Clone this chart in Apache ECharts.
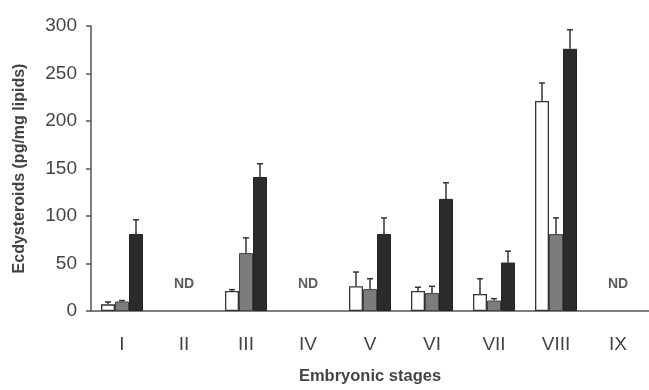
<!DOCTYPE html>
<html>
<head>
<meta charset="utf-8">
<script src="https://cdn.jsdelivr.net/npm/echarts@6/dist/echarts.min.js"></script>
<style>
  html, body { margin: 0; padding: 0; background: #fff; }
  #chart { width: 649px; height: 390px; }
</style>
</head>
<body>
<div id="chart"></div>
<script>
// stages on the x axis
const stages = ['I', 'II', 'III', 'IV', 'V', 'VI', 'VII', 'VIII', 'IX']
// three series (white, grey, black bars) + upper error
const whiteVals = [7, null, 21, null, 26, 21, 18, 221, null]
const whiteErr = [2.5, null, 1.5, null, 15, 4, 16, 19, null]
const greyVals = [10, null, 61, null, 23, 19, 11, 81, null]
const greyErr = [1, null, 16, null, 11, 7, 2, 17, null]
const blackVals = [81, null, 141, null, 81, 118, 51, 276, null]
const blackErr = [15, null, 14, null, 17, 17, 12, 20, null]
// not detected stages
const ndStages = ['II', 'IV', 'IX']
const ndLevel = 28
const yTicks = [0, 50, 100, 150, 200, 250, 300]

const BAR_W = 14
const textCol = '#444'
const axisCol = '#555'

const chart = echarts.init(document.getElementById('chart'))

// error bar drawn as custom series, shifted to sit over its own bar
const errSeries = (vals, errs, slot) => ({
  type: 'custom',
  z: 5,
  data: vals.map((v, i) => (v == null ? null : [i, v, errs[i]])).filter(d => d),
  renderItem: (params, api) => {
    const base = api.coord([api.value(0), api.value(1)])
    const top = api.coord([api.value(0), api.value(1) + api.value(2)])
    const x = base[0] + slot * BAR_W
    const style = { stroke: '#333', lineWidth: 1.5 }
    return {
      type: 'group',
      children: [
        { type: 'line', shape: { x1: x, y1: base[1], x2: x, y2: top[1] }, style },
        { type: 'line', shape: { x1: x - 3, y1: top[1], x2: x + 3, y2: top[1] }, style }
      ]
    }
  }
})

const barBase = {
  type: 'bar',
  barWidth: BAR_W,
  barGap: '0%',
  z: 3
}

chart.setOption({
  backgroundColor: '#fff',
  animation: false,
  grid: { left: 91, right: 0, top: 26, bottom: 76 },
  xAxis: {
    type: 'category',
    data: stages,
    name: 'Embryonic stages',
    nameLocation: 'middle',
    nameGap: 57,
    nameTextStyle: { color: textCol, fontSize: 16.5, fontWeight: 'bold', fontFamily: 'Liberation Sans, Arial' },
    axisLine: { lineStyle: { color: axisCol, width: 1.5 } },
    axisTick: { length: 5, lineStyle: { color: axisCol, width: 1.5 } },
    axisLabel: { color: textCol, fontSize: 19, margin: 24, fontFamily: 'Liberation Sans Narrow, Liberation Sans, Arial' }
  },
  yAxis: {
    type: 'value',
    min: yTicks[0],
    max: yTicks[yTicks.length - 1],
    interval: yTicks[1] - yTicks[0],
    name: 'Ecdysteroids (pg/mg lipids)',
    nameLocation: 'middle',
    nameGap: 63,
    nameTextStyle: { color: textCol, fontSize: 16, fontWeight: 'bold', fontFamily: 'Liberation Sans, Arial' },
    splitLine: { show: false },
    axisLine: { show: true, lineStyle: { color: axisCol, width: 1.5 } },
    axisTick: { show: true, length: 5, lineStyle: { color: axisCol, width: 1.5 } },
    axisLabel: { color: textCol, fontSize: 19, margin: 14, fontFamily: 'Liberation Sans, Arial' }
  },
  series: [
    { ...barBase, data: whiteVals, itemStyle: { color: '#fff', borderColor: '#333', borderWidth: 1.3 } },
    { ...barBase, data: greyVals, itemStyle: { color: '#7c7c7c', borderColor: '#444', borderWidth: 1 } },
    { ...barBase, data: blackVals, itemStyle: { color: '#2b2b2b', borderColor: '#222', borderWidth: 1 } },
    errSeries(whiteVals, whiteErr, -1),
    errSeries(greyVals, greyErr, 0),
    errSeries(blackVals, blackErr, 1),
    {
      type: 'scatter',
      symbolSize: 0,
      data: ndStages.map(s => [s, ndLevel]),
      label: {
        show: true,
        position: 'inside',
        formatter: 'ND',
        color: '#333',
        fontSize: 14,
        fontWeight: 'bold',
        fontFamily: 'Liberation Sans, Arial'
      }
    }
  ]
})
</script>
</body>
</html>
